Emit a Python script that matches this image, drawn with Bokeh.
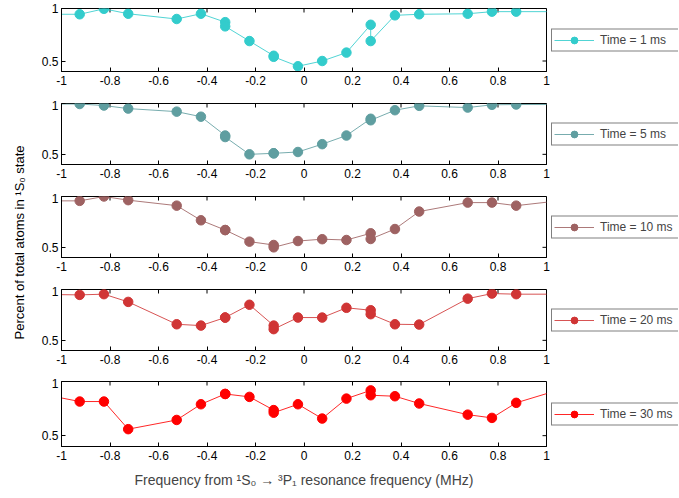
import math
from bokeh.plotting import figure
from bokeh.models import Range1d, FixedTicker, Legend, LegendItem, Label
from bokeh.layouts import row, column
from bokeh.embed import file_html
from bokeh.resources import INLINE

# ---- data ----
freq = [-1.025, -0.925, -0.825, -0.725, -0.525, -0.425, -0.325, -0.325, -0.225,
        -0.125, -0.125, -0.025, 0.075, 0.175, 0.275, 0.275, 0.375, 0.475, 0.675,
        0.775, 0.875, 1.075]

t1ms = [0.945, 0.945, 0.997, 0.95, 0.90, 0.95, 0.87, 0.83, 0.69, 0.55, 0.54, 0.45,
        0.50, 0.58, 0.845, 0.69, 0.935, 0.945, 0.95, 0.97, 0.97, 0.97]
t5ms = [0.995, 0.995, 0.98, 0.95, 0.92, 0.87, 0.685, 0.67, 0.50, 0.51, 0.51, 0.523,
        0.60, 0.685, 0.85, 0.835, 0.934, 0.977, 0.96, 0.987, 0.99, 0.99]
t10ms = [0.957, 0.957, 1.0, 0.964, 0.91, 0.766, 0.67, 0.67, 0.556, 0.523, 0.50, 0.562,
         0.58, 0.572, 0.638, 0.582, 0.68, 0.852, 0.94, 0.94, 0.91, 0.964]
t20ms = [0.95, 0.947, 0.954, 0.878, 0.658, 0.645, 0.724, 0.724, 0.85, 0.645, 0.61, 0.724,
         0.724, 0.82, 0.796, 0.757, 0.658, 0.655, 0.91, 0.96, 0.954, 0.954]
t30ms = [0.859, 0.815, 0.815, 0.56, 0.645, 0.79, 0.885, 0.885, 0.858, 0.736, 0.712, 0.79,
         0.658, 0.842, 0.918, 0.873, 0.864, 0.797, 0.694, 0.664, 0.803, 0.939]

series = [t1ms, t5ms, t10ms, t20ms, t30ms]
labels = ["Time = 1 ms", "Time = 5 ms", "Time = 10 ms", "Time = 20 ms", "Time = 30 ms"]
colors = ["#33CCCC", "#5F9EA0", "#9E6262", "#D03535", "#FF0000"]

x_lo, x_hi = -1.0, 1.0
y_lo, y_hi = 0.4, 1.0
x_ticks = [-1, -0.8, -0.6, -0.4, -0.2, 0, 0.2, 0.4, 0.6, 0.8, 1]
x_tick_labels = ["-1", "-0.8", "-0.6", "-0.4", "-0.2", "0", "0.2", "0.4", "0.6", "0.8", "1"]
y_ticks = [0.5, 1]
y_tick_labels = ["0.5", "1"]

x_label = "Frequency from \u00b9S\u2080 \u2192 \u00b3P\u2081 resonance frequency (MHz)"
y_label = "Percent of total atoms in \u00b9S\u2080 state"

# ---- layout (pixels) ----
FONT = "Liberation Sans"
W_LABEL = 31
BL = 30
FRAME_W = 485
BR = 5
FIG_W = BL + FRAME_W + BR
LEG_W = 127
# (figure height, border top, frame height) for each panel
PANEL_GEOM = [(100, 8, 63), (93, 3, 61), (93, 3, 61), (92, 3, 61), (113, 3, 65)]


def make_panel(vals, color, label, geom, last):
    h, bt, fh = geom
    p = figure(width=FIG_W, height=h, x_range=Range1d(x_lo, x_hi), y_range=Range1d(y_lo, y_hi),
               output_backend="svg", toolbar_location=None,
               min_border_left=BL, min_border_right=BR, min_border_top=bt,
               min_border_bottom=h - bt - fh)
    p.xgrid.visible = False
    p.ygrid.visible = False
    p.outline_line_color = "black"
    p.outline_line_width = 1

    xax = p.below[0]
    yax = p.left[0]
    xax.ticker = FixedTicker(ticks=x_ticks)
    xax.major_label_overrides = {v: s for v, s in zip(x_ticks, x_tick_labels)}
    yax.ticker = FixedTicker(ticks=y_ticks)
    yax.major_label_overrides = {v: s for v, s in zip(y_ticks, y_tick_labels)}
    for ax in (xax, yax):
        ax.major_tick_in = 4
        ax.major_tick_out = 0
        ax.minor_tick_in = 0
        ax.minor_tick_out = 0
        ax.major_label_text_font = FONT
        ax.major_label_text_font_size = "12px"
        ax.major_label_text_color = "black"
        ax.axis_line_color = "black"
        ax.major_tick_line_color = "black"
    xax.major_label_standoff = 4
    yax.major_label_standoff = 3

    # mirrored inward ticks on the top and right edges of the box
    p.ray(x=x_ticks, y=[y_hi] * len(x_ticks), length=4, angle=-math.pi / 2,
          length_units="screen", line_color="black", line_width=1)
    p.ray(x=[x_hi] * len(y_ticks), y=y_ticks, length=4, angle=math.pi,
          length_units="screen", line_color="black", line_width=1)

    p.line(freq, vals, line_color=color, line_width=1, line_alpha=0.85)
    p.scatter(freq, vals, marker="circle", size=9.5, fill_color=color, line_color=color)

    if last:
        xax.axis_label = x_label
        xax.axis_label_text_font = FONT
        xax.axis_label_text_font_size = "14px"
        xax.axis_label_text_font_style = "normal"
        xax.axis_label_standoff = 9

    # legend lives in its own narrow figure to the right of the panel; its
    # frame matches the panel frame so "center_left" lines up.  The legend's
    # renderers hold the series but lie outside this figure's view.
    lf = figure(width=LEG_W, height=h, x_range=Range1d(10, 11), y_range=Range1d(10, 11),
                output_backend="svg", toolbar_location=None,
                x_axis_location=None, y_axis_location=None,
                min_border_left=0, min_border_right=0, min_border_top=bt,
                min_border_bottom=h - bt - fh, outline_line_color=None)
    lf.xgrid.visible = False
    lf.ygrid.visible = False
    ln = lf.line(freq, vals, line_color=color, line_width=1, line_alpha=0.85)
    sc = lf.scatter(freq, vals, marker="circle", size=9.5, fill_color=color, line_color=color)
    leg = Legend(items=[LegendItem(label=label, renderers=[ln, sc])],
                 location="center_left",
                 orientation="vertical", padding=2, margin=0, spacing=0,
                 glyph_width=40, glyph_height=17, label_height=17, label_standoff=6,
                 label_width=90,
                 label_text_font=FONT, label_text_font_size="12px",
                 border_line_color="black", border_line_width=1,
                 background_fill_color="white", background_fill_alpha=1)
    lf.add_layout(leg)
    return row(p, lf)


panels = [make_panel(v, c, l, g, i == 4)
          for i, (v, c, l, g) in enumerate(zip(series, colors, labels, PANEL_GEOM))]

total_h = sum(g[0] for g in PANEL_GEOM)
lab = figure(width=W_LABEL, height=total_h, x_range=Range1d(0, 1), y_range=Range1d(0, 1),
             output_backend="svg", toolbar_location=None,
             x_axis_location=None, y_axis_location=None,
             min_border=0, outline_line_color=None)
lab.xgrid.visible = False
lab.ygrid.visible = False
lab.add_layout(Label(x=19, y=total_h - 242, x_units="screen", y_units="screen",
                     text=y_label, angle=math.pi / 2, text_align="center",
                     text_baseline="middle", text_font=FONT, text_font_size="13px",
                     text_color="black"))

layout = row(lab, column(*panels))
open("out.html", "w").write(file_html(layout, INLINE))
